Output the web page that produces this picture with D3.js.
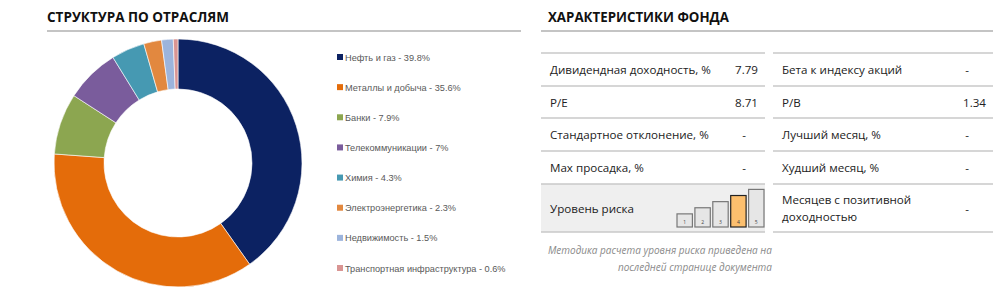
<!DOCTYPE html>
<html>
<head>
<meta charset="utf-8">
<script src="https://cdn.jsdelivr.net/npm/d3@7"></script>
<style>
  body { margin: 0; background: #fff; }
  svg { display: block; font-family: "Open Sans", sans-serif; }
</style>
</head>
<body>
<div id="chart"></div>
<script>
const SECTORS = ['Нефть и газ', 'Металлы и добыча', 'Банки', 'Телекоммуникации', 'Химия',
  'Электроэнергетика', 'Недвижимость', 'Транспортная инфраструктура'];
const SHARES = [39.8, 35.6, 7.9, 7, 4.3, 2.3, 1.5, 0.6];
const SECTOR_COLORS = ['#0c2262', '#e46c0a', '#8ca650', '#7a5c9c', '#4699b2', '#e2883f', '#9cb4dc', '#d99593'];

const LEFT_LABELS = ['Дивидендная доходность, %', 'P/E', 'Стандартное отклонение, %', 'Max просадка, %', 'Уровень риска'];
const LEFT_VALUES = ['7.79', '8.71', '-', '-', null];
const RIGHT_LABELS = ['Бета к индексу акций', 'P/B', 'Лучший месяц, %', 'Худший месяц, %', 'Месяцев с позитивной|доходностью'];
const RIGHT_VALUES = ['-', '1.34', '-', '-', '-'];
const RISK_LEVELS = [1, 2, 3, 4, 5];
const RISK_CURRENT = 4;

const W = 1005, H = 304;
const svg = d3.select('#chart').append('svg').attr('width', W).attr('height', H);

// ---- left: sector donut
svg.append('text').attr('x', 47).attr('y', 22)
  .attr('font-size', '13.5px').attr('font-weight', 'bold').attr('fill', '#111')
  .text('СТРУКТУРА ПО ОТРАСЛЯМ');
svg.append('line').attr('x1', 47).attr('x2', 521).attr('y1', 31).attr('y2', 31)
  .attr('stroke', '#b0b0b0').attr('stroke-width', 1.5);

const data = SECTORS.map((s, i) => ({ name: s, value: SHARES[i], color: SECTOR_COLORS[i] }));
const pie = d3.pie().value(d => d.value).sort(null);
const arc = d3.arc().innerRadius(74).outerRadius(124);
const g = svg.append('g').attr('transform', 'translate(178,163)');
g.selectAll('path').data(pie(data)).join('path')
  .attr('d', arc).attr('fill', d => d.data.color)
  .attr('stroke', '#fff').attr('stroke-width', 0.6);

const ly = d3.scalePoint().domain(SECTORS).range([57, 268]);
const legend = svg.append('g').selectAll('g').data(data).join('g')
  .attr('transform', d => `translate(337,${ly(d.name)})`);
legend.append('rect').attr('x', 0).attr('y', -3).attr('width', 6).attr('height', 6)
  .attr('fill', d => d.color);
legend.append('text').attr('x', 8).attr('y', 3.5)
  .attr('font-family', '"Liberation Sans", Arial, sans-serif')
  .attr('font-size', '9.2px').attr('fill', '#595959')
  .text(d => `${d.name} - ${d.value}%`);

// ---- right: fund characteristics
svg.append('text').attr('x', 548).attr('y', 22)
  .attr('font-size', '13.3px').attr('font-weight', 'bold').attr('fill', '#111')
  .text('ХАРАКТЕРИСТИКИ ФОНДА');
svg.append('line').attr('x1', 541).attr('x2', 993).attr('y1', 31).attr('y2', 31)
  .attr('stroke', '#b0b0b0').attr('stroke-width', 1.5);

const rowTops = [53, 86, 118, 151, 184, 232];
const cols = [
  { x0: 541, x1: 765, labels: LEFT_LABELS, values: LEFT_VALUES, numX: 758, dashX: 744 },
  { x0: 773, x1: 993, labels: RIGHT_LABELS, values: RIGHT_VALUES, numX: 986, dashX: 967 },
];

// grey risk row background
svg.append('rect').attr('x', 541).attr('y', rowTops[4]).attr('width', 224)
  .attr('height', rowTops[5] - rowTops[4]).attr('fill', '#efefef');

cols.forEach(c => {
  rowTops.forEach(y => {
    svg.append('line').attr('x1', c.x0).attr('x2', c.x1).attr('y1', y).attr('y2', y)
      .attr('stroke', '#c8c8c8').attr('stroke-width', 1.5);
  });
  c.labels.forEach((lab, i) => {
    const mid = (rowTops[i] + rowTops[i + 1]) / 2;
    const parts = lab.split('|');
    const t = svg.append('text').attr('x', c.x0 + 9).attr('font-size', '11.6px').attr('fill', '#222');
    parts.forEach((p, k) => {
      t.append('tspan').attr('x', c.x0 + 9)
        .attr('y', mid + 4.5 + (k - (parts.length - 1) / 2) * 17).text(p);
    });
    const v = c.values[i];
    if (v != null) {
      svg.append('text')
        .attr('x', v === '-' ? c.dashX : c.numX)
        .attr('y', mid + 4.5)
        .attr('text-anchor', v === '-' ? 'middle' : 'end')
        .attr('font-size', '11.6px').attr('fill', '#222').text(v);
    }
  });
});

// risk level bars
const rx = d3.scaleBand().domain(RISK_LEVELS).range([677, 764]).paddingInner(0.14);
const rh = d3.scaleLinear().domain([0, 5]).range([0, 36]);
const base = 227;
const risk = svg.append('g').selectAll('g').data(RISK_LEVELS).join('g');
risk.append('rect')
  .attr('x', d => rx(d)).attr('width', rx.bandwidth())
  .attr('y', d => base - (rh(d) * 0.85 + 7)).attr('height', d => rh(d) * 0.85 + 7)
  .attr('fill', d => d === RISK_CURRENT ? '#fcbf6e' : '#e6e6e6')
  .attr('stroke', d => d === RISK_CURRENT ? '#222' : '#777').attr('stroke-width', 1.2);
risk.append('text')
  .attr('x', d => rx(d) + rx.bandwidth() / 2).attr('y', base - 3)
  .attr('text-anchor', 'middle').attr('font-size', '5px').attr('fill', '#444')
  .text(d => d);

// footnote
const note = svg.append('text').attr('text-anchor', 'end').attr('font-size', '10px')
  .attr('font-style', 'italic').attr('fill', '#8a8a8a');
note.append('tspan').attr('x', 772).attr('y', 254).text('Методика расчета уровня риска приведена на');
note.append('tspan').attr('x', 772).attr('y', 271).text('последней странице документа');
</script>
</body>
</html>
